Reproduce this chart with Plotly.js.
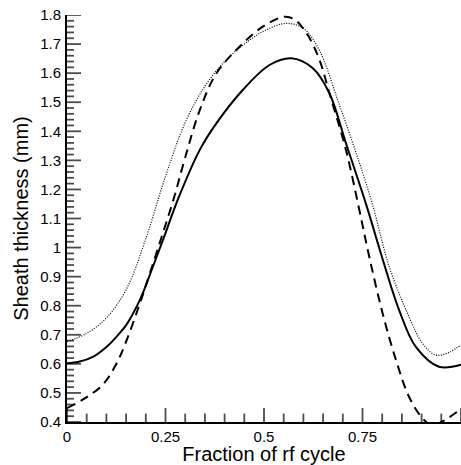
<!DOCTYPE html>
<html>
<head>
<meta charset="utf-8">
<script src="https://cdn.plot.ly/plotly-3.0.1.min.js"></script>
<style>
html,body{margin:0;padding:0;background:#fff;overflow:hidden;}
#chart{width:461px;height:465px;}
</style>
</head>
<body>
<div id="chart"></div>
<script>
// Solid curve
const solidX = [0, 0.03, 0.067, 0.10, 0.13, 0.151, 0.185, 0.218, 0.25, 0.281, 0.337, 0.379, 0.446, 0.514, 0.569, 0.624, 0.666, 0.708, 0.76, 0.80, 0.843, 0.885, 0.944, 1.0];
const solidY = [0.602, 0.607, 0.625, 0.658, 0.70, 0.735, 0.820, 0.934, 1.05, 1.164, 1.336, 1.427, 1.542, 1.628, 1.651, 1.617, 1.531, 1.359, 1.145, 0.965, 0.785, 0.659, 0.590, 0.597];
// Dotted curve
const dottedX = [0, 0.05, 0.10, 0.15, 0.20, 0.25, 0.30, 0.35, 0.40, 0.45, 0.50, 0.556, 0.60, 0.64, 0.69, 0.74, 0.775, 0.818, 0.868, 0.902, 0.936, 0.97, 1.0];
const dottedY = [0.676, 0.705, 0.758, 0.855, 1.03, 1.245, 1.43, 1.555, 1.64, 1.70, 1.745, 1.771, 1.754, 1.68, 1.496, 1.30, 1.15, 0.934, 0.762, 0.671, 0.630, 0.64, 0.665];
// Dashed curve
const dashedX = [0, 0.046, 0.092, 0.126, 0.151, 0.181, 0.202, 0.235, 0.27, 0.30, 0.337, 0.379, 0.438, 0.497, 0.552, 0.577, 0.611, 0.641, 0.666, 0.708, 0.742, 0.767, 0.801, 0.835, 0.868, 0.902, 0.925, 0.95, 1.0];
const dashedY = [0.448, 0.482, 0.530, 0.602, 0.680, 0.792, 0.877, 1.015, 1.164, 1.31, 1.473, 1.599, 1.691, 1.76, 1.794, 1.785, 1.731, 1.645, 1.531, 1.336, 1.129, 0.969, 0.774, 0.613, 0.487, 0.413, 0.39, 0.40, 0.445];

// Tick values
const xTickVals = [0, 0.25, 0.5, 0.75, 1];
const xTickText = ['0', '0.25', '0.5', '0.75', '1'];
const yTickVals = [0.4, 0.5, 0.6, 0.7, 0.8, 0.9, 1.0, 1.1, 1.2, 1.3, 1.4, 1.5, 1.6, 1.7, 1.8];
const yTickText = ['0.4', '0.5', '0.6', '0.7', '0.8', '0.9', '1', '1.1', '1.2', '1.3', '1.4', '1.5', '1.6', '1.7', '1.8'];
const xMinorPerMajor = 5;   // minor tick every 0.05
const yMinorPerMajor = 5;   // minor tick every 0.02

const xRange = [xTickVals[0], xTickVals[xTickVals.length - 1]];
const yRange = [yTickVals[0], yTickVals[yTickVals.length - 1]];

// Tick mark positions along each axis (major + minor)
const xTickPos = [], xTickSize = [];
for (let i = 0; i < xTickVals.length; i++) {
  xTickPos.push(xTickVals[i]); xTickSize.push(20);
  if (i < xTickVals.length - 1) {
    const step = (xTickVals[i + 1] - xTickVals[i]) / xMinorPerMajor;
    for (let k = 1; k < xMinorPerMajor; k++) { xTickPos.push(xTickVals[i] + k * step); xTickSize.push(12); }
  }
}
const yTickPos = [], yTickSize = [];
for (let i = 0; i < yTickVals.length; i++) {
  yTickPos.push(yTickVals[i]); yTickSize.push(20);
  if (i < yTickVals.length - 1) {
    const step = (yTickVals[i + 1] - yTickVals[i]) / yMinorPerMajor;
    for (let k = 1; k < yMinorPerMajor; k++) { yTickPos.push(yTickVals[i] + k * step); yTickSize.push(10); }
  }
}

const traces = [
  // tick marks: line-shaped markers centred on the axis line; the outer half is clipped by the plot area
  {x: xTickPos, y: xTickPos.map(() => yRange[0]), mode: 'markers', cliponaxis: true, hoverinfo: 'skip',
   marker: {symbol: 'line-ns-open', size: xTickSize, color: '#000', line: {color: '#000', width: 1.8}}},
  {x: yTickPos.map(() => xRange[0]), y: yTickPos, mode: 'markers', cliponaxis: true, hoverinfo: 'skip',
   marker: {symbol: 'line-ew-open', size: yTickSize, color: '#000', line: {color: '#000', width: 1.8}}},
  {x: solidX, y: solidY, mode: 'lines', line: {color: '#000', width: 2, shape: 'spline', smoothing: 1}},
  {x: dottedX, y: dottedY, mode: 'lines', line: {color: '#000', width: 1.2, dash: '1px,1.5px', shape: 'spline', smoothing: 1}},
  {x: dashedX, y: dashedY, mode: 'lines', line: {color: '#000', width: 2, dash: '9px,6px', shape: 'spline', smoothing: 1}}
];

const fontFam = '"Liberation Sans", Arial, Helvetica, sans-serif';
const layout = {
  width: 461, height: 465,
  margin: {l: 67, r: 0, t: 15, b: 43},
  paper_bgcolor: '#fff', plot_bgcolor: '#fff',
  showlegend: false,
  font: {family: fontFam, color: '#000'},
  xaxis: {
    range: xRange, tickmode: 'array', tickvals: xTickVals, ticktext: xTickText,
    ticks: '', showline: true, linewidth: 2, linecolor: '#000', showgrid: false, zeroline: false,
    tickfont: {size: 15, family: fontFam, color: '#000'},
    title: {text: 'Fraction of rf cycle', font: {size: 20, family: fontFam, color: '#000'}, standoff: 12}
  },
  yaxis: {
    range: yRange, tickmode: 'array', tickvals: yTickVals, ticktext: yTickText,
    ticks: '', showline: true, linewidth: 2, linecolor: '#000', showgrid: false, zeroline: false,
    tickfont: {size: 15, family: fontFam, color: '#000'},
    ticklabelstandoff: 1,
    title: {text: 'Sheath thickness (mm)', font: {size: 20, family: fontFam, color: '#000'}, standoff: 6}
  }
};

Plotly.newPlot('chart', traces, layout, {displayModeBar: false});
</script>
</body>
</html>
